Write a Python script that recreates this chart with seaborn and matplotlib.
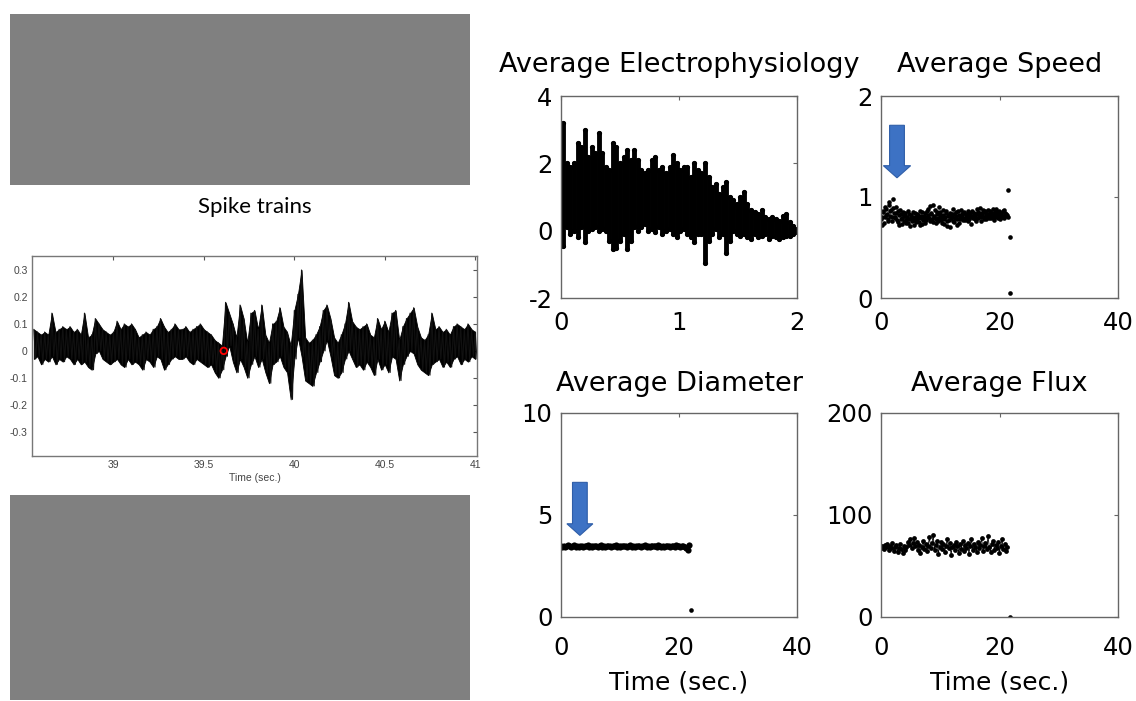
import numpy as np
import pandas as pd
import matplotlib
matplotlib.use("Agg")
import matplotlib.pyplot as plt
import seaborn as sns
from matplotlib.patches import Rectangle, FancyArrow

sns.set_style("white")
plt.rcParams['font.family'] = ['DejaVu Sans']
plt.rcParams['axes.unicode_minus'] = False
plt.rcParams['text.color'] = 'black'
plt.rcParams['axes.labelcolor'] = 'black'
plt.rcParams['axes.titlecolor'] = 'black'

# ---------------- data ----------------
# Spike train: envelope read every 0.02 s from 38.56 to 41.00 s
spike_t0 = 38.56
spike_dt = 0.02
spike_hi = [0.08, 0.07, 0.06, 0.07, 0.06, 0.14, 0.07, 0.08, 0.09, 0.08,
            0.09, 0.07, 0.08, 0.06, 0.14, 0.05, 0.06, 0.12, 0.10, 0.08,
            0.07, 0.06, 0.07, 0.11, 0.08, 0.10, 0.09, 0.10, 0.08, 0.05,
            0.06, 0.07, 0.06, 0.08, 0.09, 0.12, 0.09, 0.07, 0.08, 0.10,
            0.08, 0.08, 0.09, 0.07, 0.08, 0.09, 0.10, 0.08, 0.07, 0.06,
            0.04, 0.03, 0.02, 0.18, 0.14, 0.10, 0.05, 0.17, 0.12, 0.03,
            0.14, 0.15, 0.08, 0.17, 0.06, 0.03, 0.10, 0.11, 0.16, 0.09,
            0.07, 0.02, 0.15, 0.21, 0.30, 0.05, 0.03, 0.04, 0.06, 0.09,
            0.15, 0.17, 0.12, 0.05, 0.03, 0.06, 0.10, 0.18, 0.11, 0.09,
            0.08, 0.09, 0.10, 0.06, 0.05, 0.12, 0.08, 0.11, 0.07, 0.14,
            0.15, 0.04, 0.09, 0.12, 0.14, 0.16, 0.09, 0.05, 0.04, 0.06,
            0.14, 0.08, 0.09, 0.07, 0.08, 0.06, 0.09, 0.10, 0.09, 0.08,
            0.10, 0.08, 0.07]
spike_lo = [-0.03, -0.02, -0.05, -0.03, -0.04, -0.02, -0.05, -0.03, -0.04, -0.02,
            -0.03, -0.05, -0.03, -0.05, -0.04, -0.06, -0.07, -0.01, 0.00, -0.03,
            -0.04, -0.05, -0.04, -0.03, -0.05, -0.06, -0.03, -0.05, -0.04, -0.05,
            -0.07, -0.03, -0.04, -0.06, -0.02, -0.03, -0.07, -0.05, -0.03, -0.02,
            -0.03, -0.03, -0.02, -0.04, -0.05, -0.03, -0.04, -0.05, -0.06, -0.05,
            -0.08, -0.10, -0.07, -0.02, 0.02, -0.04, -0.08, -0.03, -0.06, -0.10,
            -0.05, -0.02, -0.06, -0.03, -0.08, -0.12, -0.05, -0.04, -0.02, -0.06,
            -0.08, -0.18, -0.03, 0.05, -0.02, -0.11, -0.12, -0.13, -0.08, -0.04,
            0.00, 0.04, -0.02, -0.09, -0.10, -0.08, -0.03, 0.00, -0.03, -0.06,
            -0.05, -0.07, -0.04, -0.06, -0.09, -0.03, -0.07, -0.05, -0.08, -0.02,
            -0.03, -0.11, -0.05, -0.02, 0.00, -0.01, -0.05, -0.07, -0.08, -0.09,
            -0.05, -0.04, -0.03, -0.06, -0.04, -0.06, -0.03, -0.02, -0.05, -0.03,
            -0.04, -0.02, -0.03]
spike_mark_t = [39.61]
spike_mark_v = [0.0]
spike_xticks = [39, 39.5, 40, 40.5, 41]
spike_xlabels = ["39", "39.5", "40", "40.5", "41"]
spike_yticks = [-0.3, -0.2, -0.1, 0, 0.1, 0.2, 0.3]
spike_ylabels = ["-0.3", "-0.2", "-0.1", "0", "0.1", "0.2", "0.3"]

# Average electrophysiology: column positions with upper / lower extents
elec_t = [0.00, 0.02, 0.05, 0.08, 0.11, 0.14, 0.17, 0.20, 0.23, 0.26,
          0.29, 0.32, 0.35, 0.38, 0.41, 0.44, 0.47, 0.50, 0.53, 0.56,
          0.59, 0.62, 0.65, 0.68, 0.71, 0.74, 0.77, 0.80, 0.83, 0.86,
          0.89, 0.92, 0.95, 0.98, 1.01, 1.04, 1.07, 1.10, 1.13, 1.16,
          1.19, 1.22, 1.25, 1.28, 1.31, 1.34, 1.37, 1.40, 1.43, 1.46,
          1.49, 1.52, 1.55, 1.58, 1.61, 1.64, 1.67, 1.70, 1.73, 1.76,
          1.79, 1.82, 1.85, 1.88, 1.91, 1.94, 1.97, 2.00]
elec_hi = [1.6, 3.2, 2.0, 1.9, 2.0, 2.6, 2.5, 3.0, 2.2, 2.5,
           2.3, 2.9, 2.3, 1.9, 1.8, 2.6, 2.5, 2.0, 2.2, 2.4,
           2.1, 2.4, 2.1, 1.8, 1.7, 1.8, 2.1, 2.2, 1.8, 1.9,
           1.7, 1.9, 2.25, 2.0, 1.8, 1.9, 1.9, 1.6, 2.0, 1.8,
           1.7, 2.0, 1.6, 1.3, 1.4, 1.1, 1.3, 1.45, 1.0, 0.9,
           0.8, 1.0, 1.15, 0.8, 0.6, 0.55, 0.5, 0.6, 0.4, 0.35,
           0.4, 0.35, 0.3, 0.45, 0.5, 0.25, 0.15, 0.05]
elec_lo = [-0.4, -0.45, 0.1, -0.1, 0.0, -0.2, 0.1, -0.35, 0.0, 0.05,
           0.1, 0.0, 0.05, 0.0, -0.3, -0.55, -0.5, -0.3, -0.1, -0.55,
           -0.3, 0.1, 0.0, 0.1, 0.2, 0.0, 0.05, -0.05, 0.1, -0.1,
           0.0, 0.05, -0.1, -0.2, 0.0, 0.05, -0.1, -0.2, -0.35, -0.1,
           -0.1, -0.95, -0.3, -0.1, 0.05, -0.2, -0.1, -0.65, -0.3, 0.0,
           -0.1, -0.15, -0.1, -0.2, -0.25, -0.1, -0.2, -0.15, -0.1, -0.25,
           -0.15, -0.2, -0.25, -0.2, -0.15, -0.15, -0.1, -0.05]

# Average speed (two interleaved sample sets, 0.2 s apart each)
speed_dt = 0.2
speed_a = [0.78, 0.72, 0.85, 0.80, 0.88, 0.83, 0.76, 0.92, 0.86, 0.80,
           0.98, 0.84, 0.79, 0.90, 0.75, 0.82, 0.87, 0.78, 0.73, 0.81,
           0.84, 0.77, 0.80, 0.74, 0.83, 0.79, 0.76, 0.85, 0.72, 0.80,
           0.78, 0.82, 0.75, 0.86, 0.79, 0.73, 0.81, 0.84, 0.77, 0.80,
           0.88, 0.76, 0.83, 0.78, 0.92, 0.81, 0.74, 0.85, 0.79, 0.90,
           0.82, 0.77, 0.87, 0.73, 0.80, 0.84, 0.76, 0.82, 0.70, 0.79,
           0.83, 0.88, 0.75, 0.81, 0.78, 0.86, 0.74, 0.80, 0.83, 0.77,
           0.85, 0.79, 0.82, 0.76, 0.84, 0.80, 0.73, 0.86, 0.81, 0.78,
           0.83, 0.88, 0.79, 0.84, 0.76, 0.82, 0.87, 0.80, 0.85, 0.78,
           0.83, 0.81, 0.86, 0.79, 0.84, 0.77, 0.82, 0.88, 0.80, 0.85,
           0.78, 0.83, 0.81, 0.86, 0.79, 0.84, 0.82, 0.80]
speed_b = [0.80, 0.86, 0.74, 0.90, 0.82, 0.78, 0.95, 0.81, 0.87, 0.76,
           0.89, 0.80, 0.84, 0.77, 0.86, 0.72, 0.83, 0.79, 0.85, 0.76,
           0.81, 0.74, 0.86, 0.78, 0.71, 0.82, 0.80, 0.77, 0.84, 0.75,
           0.83, 0.79, 0.72, 0.81, 0.85, 0.77, 0.80, 0.74, 0.86, 0.82,
           0.79, 0.91, 0.84, 0.75, 0.80, 0.87, 0.78, 0.83, 0.76, 0.85,
           0.80, 0.74, 0.82, 0.78, 0.86, 0.71, 0.81, 0.77, 0.84, 0.80,
           0.76, 0.83, 0.79, 0.85, 0.72, 0.82, 0.78, 0.87, 0.80, 0.84,
           0.77, 0.83, 0.80, 0.86, 0.78, 0.82, 0.85, 0.79, 0.84, 0.81,
           0.76, 0.85, 0.82, 0.89, 0.80, 0.84, 0.78, 0.86, 0.83, 0.81,
           0.87, 0.79, 0.84, 0.82, 0.88, 0.80, 0.85, 0.83, 0.79, 0.86,
           0.82, 0.84, 0.80, 0.87, 0.81, 0.83]
speed_out_t = [21.4, 21.7, 21.8]
speed_out_v = [1.07, 0.60, 0.05]

# Average diameter
diam_dt = 0.25
diam_v = [3.48, 3.45, 3.50, 3.44, 3.47, 3.52, 3.46, 3.43, 3.49, 3.51,
          3.45, 3.48, 3.42, 3.50, 3.47, 3.44, 3.49, 3.46, 3.52, 3.45,
          3.48, 3.43, 3.47, 3.50, 3.46, 3.44, 3.49, 3.51, 3.45, 3.47,
          3.43, 3.48, 3.50, 3.46, 3.44, 3.49, 3.47, 3.52, 3.45, 3.48,
          3.42, 3.47, 3.50, 3.46, 3.49, 3.44, 3.48, 3.51, 3.45, 3.47,
          3.43, 3.49, 3.46, 3.50, 3.44, 3.48, 3.47, 3.52, 3.45, 3.49,
          3.43, 3.47, 3.50, 3.46, 3.48, 3.44, 3.51, 3.47, 3.45, 3.49,
          3.42, 3.48, 3.46, 3.50, 3.44, 3.47, 3.49, 3.45, 3.52, 3.48,
          3.46, 3.43, 3.50, 3.47, 3.45, 3.40, 3.30, 3.55]
diam_out_t = [22.0]
diam_out_v = [0.34]

# Average flux
flux_dt = 0.215
flux_v = [68, 70, 67, 71, 69, 72, 66, 70, 68, 73,
          65, 69, 71, 64, 68, 72, 67, 63, 70, 66,
          69, 74, 71, 76, 68, 73, 77, 70, 74, 66,
          71, 63, 69, 75, 67, 72, 65, 70, 78, 68,
          73, 80, 66, 71, 75, 62, 69, 74, 67, 72,
          64, 70, 76, 68, 73, 61, 69, 71, 66, 74,
          70, 63, 72, 67, 75, 65, 71, 68, 73, 62,
          70, 76, 66, 72, 69, 64, 74, 68, 71, 77,
          65, 70, 73, 67, 79, 69, 64, 72, 75, 66,
          71, 68, 74, 63, 70, 76, 67, 72, 65, 69]
flux_out_t = [21.8]
flux_out_v = [0.0]

titles = ["Average Electrophysiology", "Average Speed", "Average Diameter", "Average Flux"]
xlabel = "Time (sec.)"

# ---------------- figure ----------------
W, H = 1136, 701
fig = plt.figure(figsize=(W / 100, H / 100), dpi=100)


def fr(left, top, right, bottom):
    return [left / W, (H - bottom) / H, (right - left) / W, (bottom - top) / H]


# gray placeholder boxes
for (l, t, r, b) in [(10, 14, 470, 185), (10, 495, 470, 700)]:
    fig.add_artist(Rectangle((l / W, (H - b) / H), (r - l) / W, (b - t) / H,
                             transform=fig.transFigure, facecolor="#808080",
                             edgecolor="none"))

fig.text(255 / W, (H - 213) / H, "Spike trains", family=["Lato", "DejaVu Sans"],
         fontsize=16, ha="center", va="baseline", color="black")

# ---- spike train ----
ax = fig.add_axes(fr(32, 256, 477, 456))
st = spike_t0 + spike_dt * np.arange(len(spike_hi))
ax.fill_between(st, spike_lo, spike_hi, color="black", lw=0.6)
xs = np.empty(2 * len(st))
ys = np.empty(2 * len(st))
xs[0::2] = st
xs[1::2] = st + spike_dt / 2
ys[0::2] = spike_hi
ys[1::2] = spike_lo
sns.lineplot(x=xs, y=ys, sort=False, estimator=None, color="#111111", lw=0.8, ax=ax)
sns.scatterplot(x=spike_mark_t, y=spike_mark_v, marker="o", s=22, facecolor="none",
                edgecolor="red", linewidth=1.3, ax=ax, zorder=5)
ax.set_xlim(38.55, 41.01)
ax.set_ylim(-0.39, 0.352)
ax.set_xticks(spike_xticks)
ax.set_xticklabels(spike_xlabels)
ax.set_yticks(spike_yticks)
ax.set_yticklabels(spike_ylabels)
ax.tick_params(direction="in", length=3, top=True, right=True, labelsize=7.5,
               colors="#555555", labelcolor="#444444", pad=3)
for lab in ax.get_xticklabels() + ax.get_yticklabels():
    lab.set_family(["Liberation Sans", "DejaVu Sans"])
ax.set_xlabel("Time (sec.)", fontsize=7.5, color="#444444", labelpad=2,
              family=["Liberation Sans", "DejaVu Sans"])
for sp in ax.spines.values():
    sp.set_color("#777777")
    sp.set_linewidth(1.0)

# ---- right panels ----
boxes = [fr(561, 96, 797, 298), fr(881, 96, 1118, 298),
         fr(561, 413, 797, 617), fr(881, 413, 1118, 617)]
axs = [fig.add_axes(b) for b in boxes]


def style(ax, title, xt, yt, xlab, tpad, xpad):
    ax.set_xticks(xt)
    ax.set_yticks(yt)
    ax.set_xticklabels([str(v) for v in xt])
    ax.set_yticklabels([str(v) for v in yt])
    ax.tick_params(direction="in", length=3, top=True, right=True, labelsize=17.5,
                   colors="#666666", labelcolor="black")
    ax.tick_params(axis="x", pad=xpad)
    ax.tick_params(axis="y", pad=6)
    ax.set_title(title, fontsize=19.5, pad=tpad, color="black")
    if xlab:
        ax.set_xlabel(xlab, fontsize=18, labelpad=7, color="black")
    for sp in ax.spines.values():
        sp.set_color("#666666")
        sp.set_linewidth(1.0)


# electrophysiology
a = axs[0]
a.vlines(elec_t, elec_lo, elec_hi, color="black", lw=3.5, capstyle="round")
sns.scatterplot(x=elec_t, y=elec_hi, color="black", s=14, linewidth=0, ax=a)
sns.scatterplot(x=elec_t, y=elec_lo, color="black", s=14, linewidth=0, ax=a)
a.set_xlim(0, 2)
a.set_ylim(-2, 4)
style(a, titles[0], [0, 1, 2], [-2, 0, 2, 4], None, 17, 9)

# speed
a = axs[1]
sa_t = speed_dt * np.arange(len(speed_a))
sb_t = speed_dt * np.arange(len(speed_b)) + speed_dt / 2
sns.scatterplot(x=sa_t, y=speed_a, color="black", s=11, linewidth=0, ax=a)
sns.scatterplot(x=sb_t, y=speed_b, color="black", s=11, linewidth=0, ax=a)
sns.scatterplot(x=speed_out_t, y=speed_out_v, color="black", s=11, linewidth=0, ax=a)
a.set_xlim(0, 40)
a.set_ylim(0, 2)
style(a, titles[1], [0, 20, 40], [0, 1, 2], None, 17, 9)
a.add_patch(FancyArrow(2.7, 1.71, 0, -0.52, width=2.5, head_width=4.6,
                       head_length=0.12, length_includes_head=True,
                       facecolor="#3d72c4", edgecolor="#2f5ea8", lw=0.8, zorder=6))

# diameter
a = axs[2]
d_t = diam_dt * np.arange(len(diam_v))
sns.lineplot(x=d_t, y=diam_v, color="black", lw=2.5, ax=a)
sns.scatterplot(x=d_t, y=diam_v, color="black", s=20, linewidth=0, ax=a)
sns.scatterplot(x=diam_out_t, y=diam_out_v, color="black", s=11, linewidth=0, ax=a)
a.set_xlim(0, 40)
a.set_ylim(0, 10)
style(a, titles[2], [0, 20, 40], [0, 5, 10], xlabel, 16, 14)
a.add_patch(FancyArrow(3.2, 6.6, 0, -2.6, width=2.5, head_width=4.4,
                       head_length=0.57, length_includes_head=True,
                       facecolor="#3d72c4", edgecolor="#2f5ea8", lw=0.8, zorder=6))

# flux
a = axs[3]
f_t = flux_dt * np.arange(len(flux_v))
sns.lineplot(x=f_t, y=flux_v, color="black", lw=0.6, ax=a)
sns.scatterplot(x=f_t, y=flux_v, color="black", s=12, linewidth=0, ax=a)
sns.scatterplot(x=flux_out_t, y=flux_out_v, color="black", s=11, linewidth=0, ax=a)
a.set_xlim(0, 40)
a.set_ylim(0, 200)
style(a, titles[3], [0, 20, 40], [0, 100, 200], xlabel, 16, 14)

fig.savefig("out.png", dpi=100)
